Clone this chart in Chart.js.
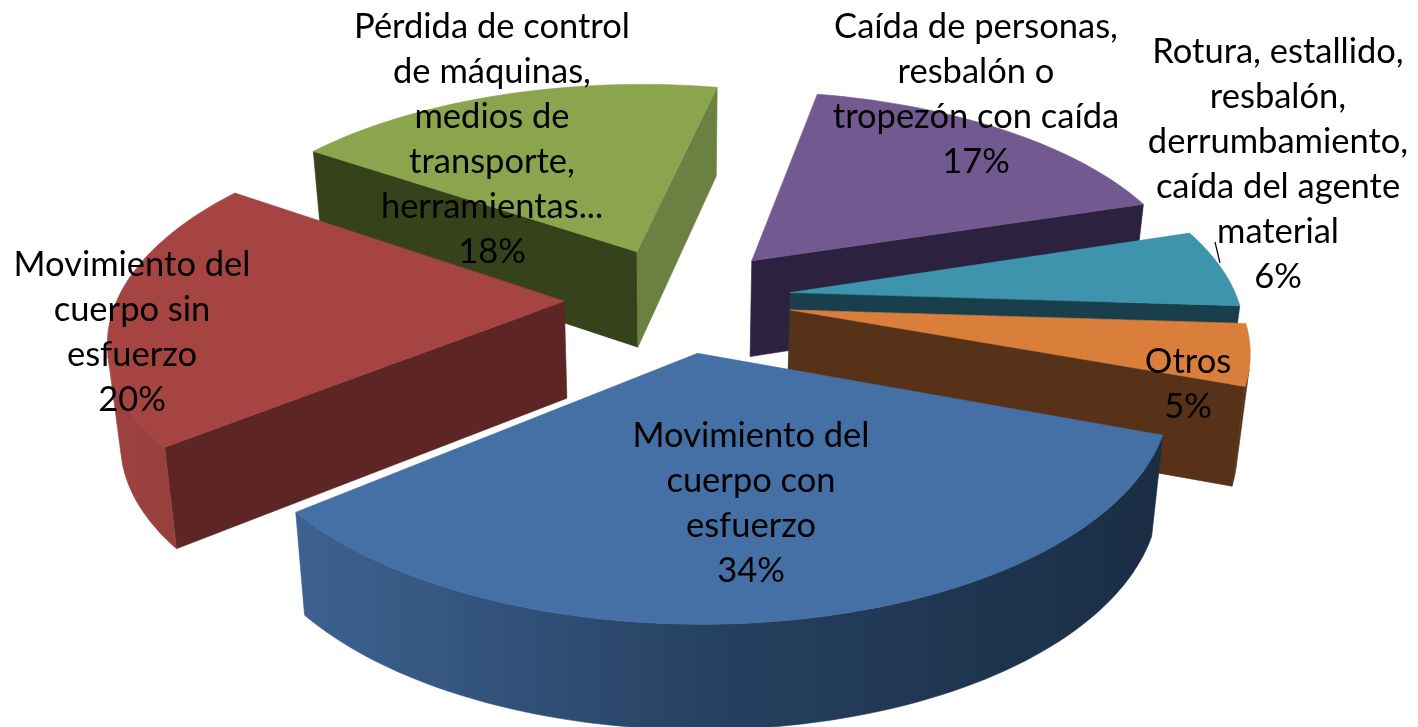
<!DOCTYPE html>
<html>
<head>
<meta charset="utf-8">
<style>html,body{margin:0;padding:0;background:#fff}canvas{display:block}</style>
<script src="https://cdn.jsdelivr.net/npm/chart.js@4"></script>
</head>
<body>
<canvas id="c" width="1418" height="727"></canvas>
<script>
const categories = ["Movimiento del cuerpo con esfuerzo","Movimiento del cuerpo sin esfuerzo","Pérdida de control de máquinas, medios de transporte, herramientas...","Caída de personas, resbalón o tropezón con caída","Rotura, estallido, resbalón, derrumbamiento, caída del agente material","Otros"];
const values = [33.6,20.4,18.65,16.9,5.9,4.55];
const percents = ["34%","20%","18%","17%","6%","5%"];
const labelLines = [
 ["Movimiento del","cuerpo con","esfuerzo"],
 ["Movimiento del","cuerpo sin","esfuerzo"],
 ["Pérdida de control","de máquinas,","medios de","transporte,","herramientas..."],
 ["Caída de personas,","resbalón o","tropezón con caída"],
 ["Rotura, estallido,","resbalón,","derrumbamiento,","caída del agente","material"],
 ["Otros"]
];
const topColors = ["#4470a6","#a54441","#8aa54e","#72598f","#3e94ad","#d97f3b"];
const faceColors = ["#1b2e45","#5d2523","#364219","#2d2140","#1a3f4c","#573218"];
const endFaceColors = ["#1b2e45","#5d2523","#6c8042","#2d2140","#1a3f4c","#573218"];
const rimStart = ["#3d6291","#a0423f","#6c8042","#5a4671","#1a3f4c","#573218"];
const rimMid = ["#25405f","#96403c","#6c8042","#5a4671","#1a3f4c","#573218"];
const rimEnd = ["#1a2d44","#8a3835","#6c8042","#5a4671","#1a3f4c","#573218"];
const labelCentres = [[751,436],[132,265],[492,27],[976,27],[1278,52],[1188,362]];

const cam = {cx:678,cy:299,a:447,b:208,p:0.16,depth:97,shrink:0.977,lineH:45};
const project=(u,v)=>{const w=1-cam.p*v;return [cam.cx+cam.a*u/w,cam.cy+cam.b*v/w];};
const lower=(u,v)=>{const t=project(u,v);return [cam.cx+(t[0]-cam.cx)*cam.shrink,t[1]+cam.depth*(1+0.07*v)];};

const pie3d={id:'pie3d',
 beforeDatasetDraw(chart){
  const ctx=chart.ctx,arcs=chart.getDatasetMeta(0).data;
  const slices=arcs.map((el,i)=>{
   const R=el.outerRadius,s=el.startAngle,e=el.endAngle,mid=(s+e)/2,k=el.options.offset/R;
   const ou=Math.cos(mid)*k,ov=Math.sin(mid)*k,pts=[];
   const n=Math.max(8,Math.round((e-s)*40));
   for(let j=0;j<=n;j++){const t=s+(e-s)*j/n;pts.push([ou+Math.cos(t),ov+Math.sin(t)]);}
   return {i,ou,ov,pts,ord:Math.sin(mid)};
  }).sort((a,b)=>a.ord-b.ord);
  const poly=(P,fill)=>{ctx.beginPath();P.forEach((q,j)=>j?ctx.lineTo(q[0],q[1]):ctx.moveTo(q[0],q[1]));ctx.closePath();ctx.fillStyle=fill;ctx.fill();ctx.strokeStyle=fill;ctx.lineWidth=0.6;ctx.stroke();};
  const area=P=>{let A=0;P.forEach((q,j)=>{const r=P[(j+1)%P.length];A+=q[0]*r[1]-r[0]*q[1];});return A/2;};
  const wall=(p,q,fill)=>{const P=[project(p[0],p[1]),project(q[0],q[1]),lower(q[0],q[1]),lower(p[0],p[1])];if(area(P)>0)poly(P,fill);};
  slices.forEach(S=>{
   const i=S.i,o=[S.ou,S.ov],pts=S.pts,last=pts[pts.length-1];
   wall(pts[0],o,faceColors[i]);
   wall(o,last,endFaceColors[i]);
   const xs=pts.map(q=>project(q[0],q[1])[0]);
   const g=ctx.createLinearGradient(Math.min(...xs),0,Math.max(...xs),0);
   g.addColorStop(0,rimStart[i]);g.addColorStop(0.5,rimMid[i]);g.addColorStop(1,rimEnd[i]);
   let run=[];
   const flush=()=>{
    if(run.length>1)poly([...run.map(q=>project(...q)),...run.slice().reverse().map(q=>lower(...q))],g);
    run=[];
   };
   for(let j=0;j<pts.length-1;j++){
    const P=[project(...pts[j+1]),project(...pts[j]),lower(...pts[j]),lower(...pts[j+1])];
    if(area(P)>0){if(!run.length)run.push(pts[j]);run.push(pts[j+1]);}
    else flush();
   }
   flush();
   poly([project(...o),...pts.map(q=>project(q[0],q[1]))],topColors[i]);
  });
  return false;
 },
 afterDraw(chart){
  const ctx=chart.ctx;
  ctx.save();
  ctx.strokeStyle='#000';ctx.lineWidth=1.2;
  ctx.beginPath();ctx.moveTo(1215,242);ctx.lineTo(1220,263);ctx.stroke();
  ctx.fillStyle='#000';ctx.font='34.5px Lato';ctx.textAlign='center';ctx.textBaseline='middle';
  labelLines.forEach((ls,i)=>{
   const [x,y]=labelCentres[i];
   [...ls,percents[i]].forEach((t,j)=>ctx.fillText(t,x,y+j*cam.lineH));
  });
  ctx.restore();
 }
};
new Chart(document.getElementById('c'),{
 type:'pie',
 data:{labels:categories,datasets:[{data:values,backgroundColor:topColors,borderWidth:0,offset:82}]},
 options:{responsive:false,animation:false,rotation:110,layout:{padding:0},plugins:{legend:{display:false},tooltip:{enabled:false}}},
 plugins:[pie3d]
});
</script>
</body>
</html>
